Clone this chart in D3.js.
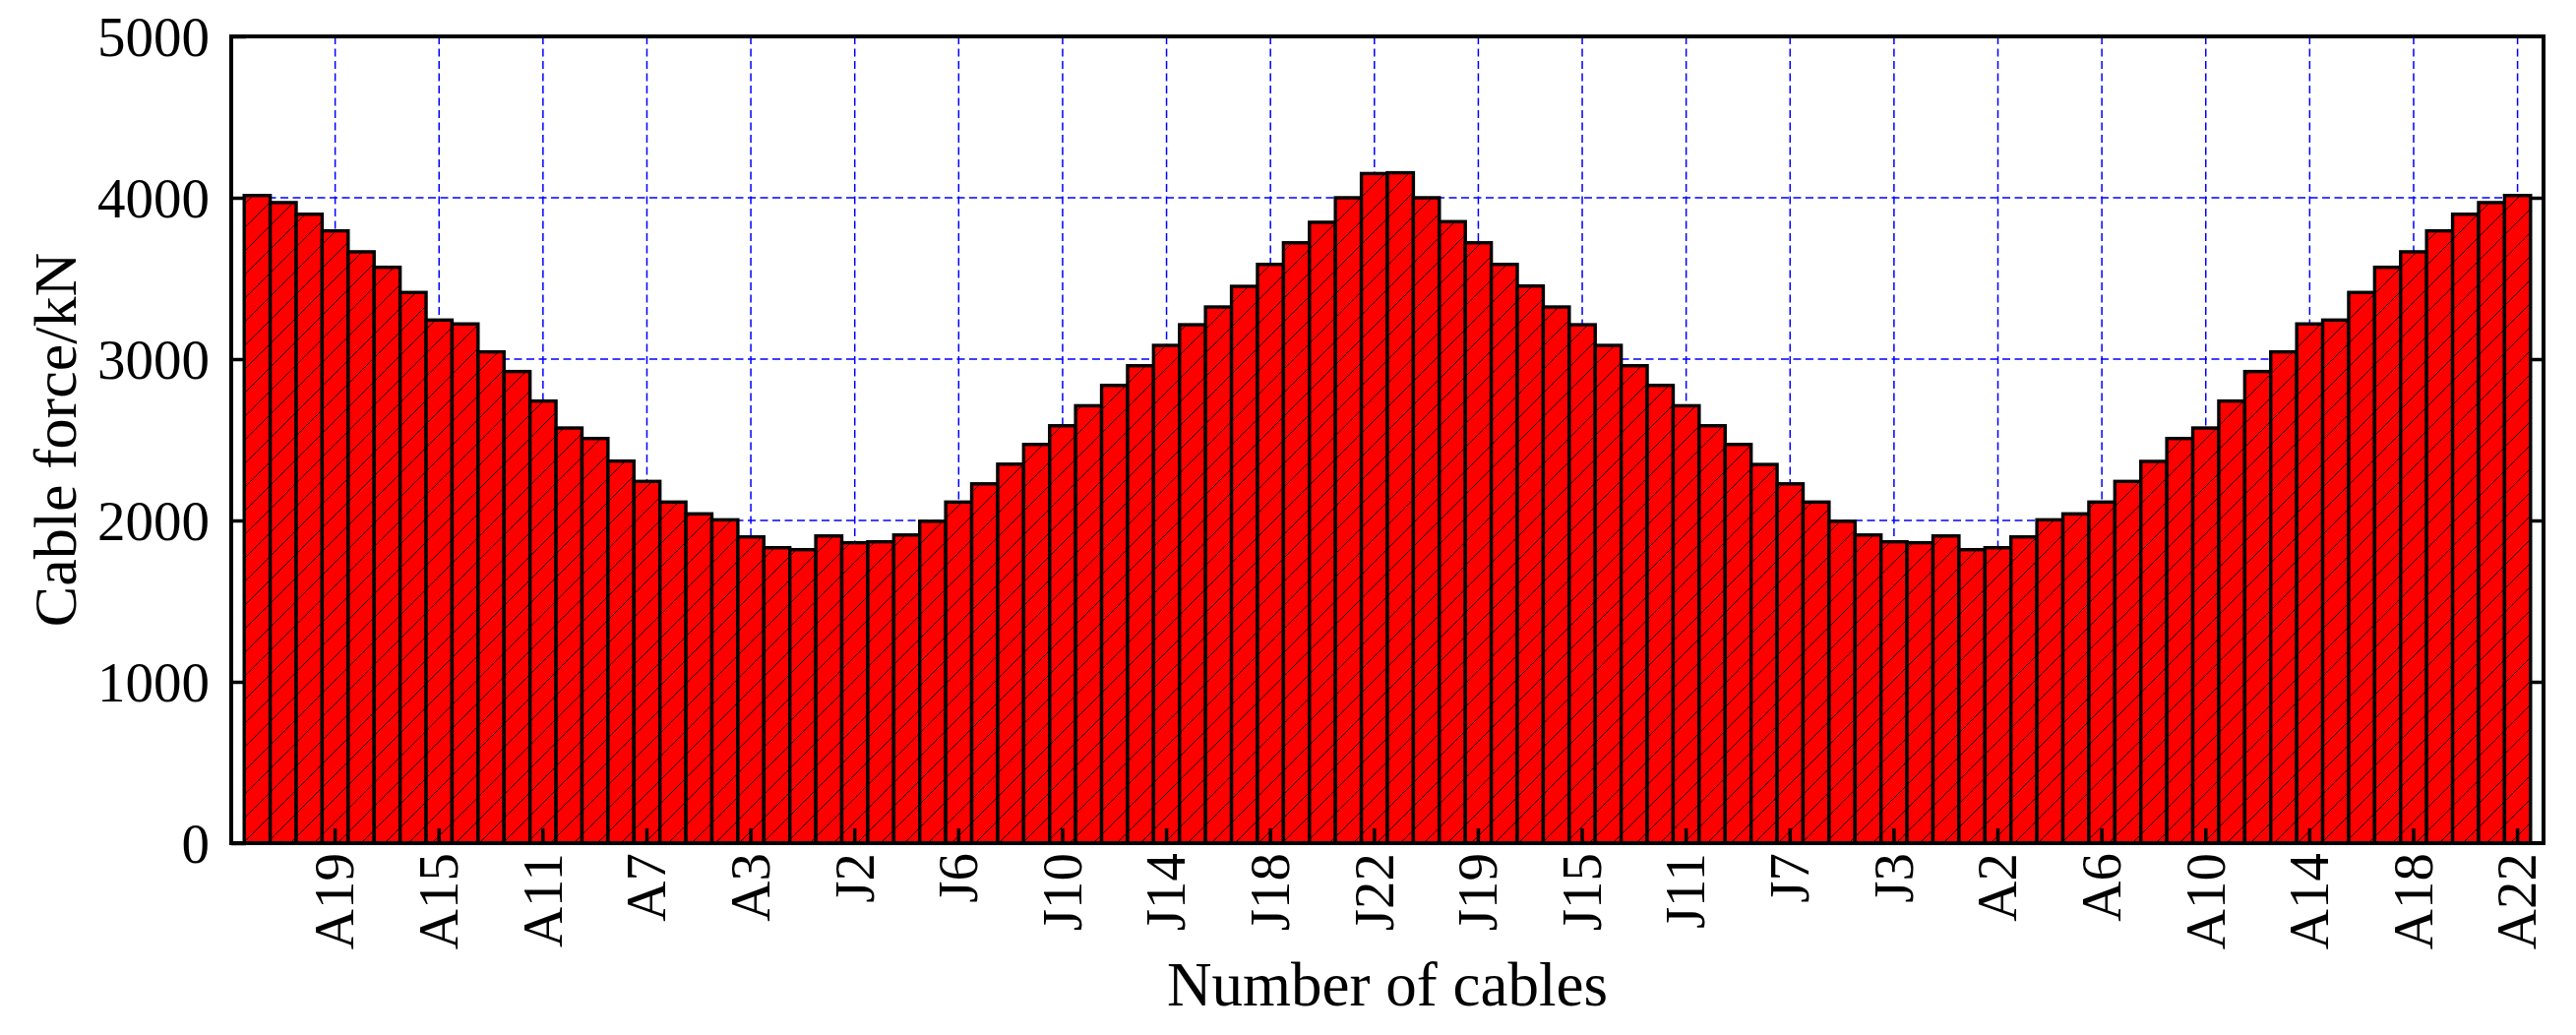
<!DOCTYPE html>
<html>
<head>
<meta charset="utf-8">
<script src="https://cdn.jsdelivr.net/npm/d3@7"></script>
<style>
  html, body { margin: 0; padding: 0; background: #fff; }
  svg { display: block; }
  text { font-family: "Liberation Serif", "Times New Roman", serif; fill: #000; }
</style>
</head>
<body>
<svg id="chart" width="2618" height="1052"></svg>
<script>
// ---------- data ----------
const cables = [
  "A22","A21","A20","A19","A18","A17","A16","A15","A14","A13","A12","A11",
  "A10","A9","A8","A7","A6","A5","A4","A3","A2","A1",
  "J1","J2","J3","J4","J5","J6","J7","J8","J9","J10","J11",
  "J12","J13","J14","J15","J16","J17","J18","J19","J20","J21","J22",
  "J22","J21","J20","J19","J18","J17","J16","J15","J14","J13","J12",
  "J11","J10","J9","J8","J7","J6","J5","J4","J3","J2","J1",
  "A1","A2","A3","A4","A5","A6","A7","A8","A9","A10","A11",
  "A12","A13","A14","A15","A16","A17","A18","A19","A20","A21","A22"
];
const forces = [
  4014, 3970, 3898, 3795, 3665, 3569, 3413, 3242, 3218, 3045, 2923, 2740,
  2573, 2508, 2368, 2242, 2114, 2041, 2004, 1898, 1831, 1819,
  1904, 1862, 1868, 1910, 1995, 2114, 2227, 2349, 2471, 2587, 2711,
  2837, 2959, 3085, 3213, 3323, 3451, 3587, 3721, 3848, 4000, 4150,
  4155, 4000, 3852, 3721, 3587, 3453, 3323, 3213, 3085, 2959, 2837,
  2711, 2587, 2471, 2347, 2227, 2114, 1995, 1910, 1868, 1862, 1904,
  1819, 1831, 1898, 2004, 2041, 2114, 2242, 2366, 2508, 2573, 2740,
  2923, 3045, 3218, 3242, 3413, 3569, 3665, 3795, 3898, 3970, 4014
];
const xTickLabels = ["A19","A15","A11","A7","A3","J2","J6","J10","J14","J18","J22",
                     "J19","J15","J11","J7","J3","A2","A6","A10","A14","A18","A22"];
const yTicks = [0, 1000, 2000, 3000, 4000, 5000];
const yGrid = [1000, 2000, 3000, 4000];
const xTitle = "Number of cables";
const yTitle = "Cable force/kN";

// ---------- layout ----------
const L = 235, R = 2585, T = 37, B = 857;
const svg = d3.select("#chart");
svg.append("rect").attr("width", 2618).attr("height", 1052).attr("fill", "#fff");

const idx = d3.range(cables.length);
const x = d3.scaleBand().domain(idx).range([L, R]).paddingInner(0).paddingOuter(0.5);
const y = d3.scaleLinear().domain([0, 5000]).range([B, T]);

// tick positions: every 4th bar starting at index 3 (labels from xTickLabels)
const xTickIdx = d3.range(3, cables.length, 4);
const tickLabelOf = new Map(xTickIdx.map((i, k) => [i, xTickLabels[k]]));

// ---------- hatch pattern ----------
const defs = svg.append("defs");
const pat = defs.append("pattern").attr("id", "hatch")
  .attr("patternUnits", "userSpaceOnUse").attr("width", 24).attr("height", 24);
pat.append("rect").attr("width", 24).attr("height", 24).attr("fill", "#ff0000");
pat.append("path").attr("d", "M0,24 L24,0 M-6,6 L6,-6 M18,30 L30,18")
  .attr("stroke", "#000").attr("stroke-width", 1).attr("stroke-opacity", 0.85);

// ---------- grid ----------
const grid = svg.append("g").attr("stroke", "#0000ff").attr("stroke-width", 1.5)
  .attr("stroke-dasharray", "8,4.5").attr("fill", "none");
grid.selectAll("line.gx").data(xTickIdx).join("line").attr("class", "gx")
  .attr("x1", d => x(d) + x.bandwidth() / 2).attr("x2", d => x(d) + x.bandwidth() / 2)
  .attr("y1", T).attr("y2", B);
grid.selectAll("line.gy").data(yGrid).join("line").attr("class", "gy")
  .attr("x1", L).attr("x2", R).attr("y1", d => y(d)).attr("y2", d => y(d));

// ---------- bars ----------
svg.append("g").selectAll("rect").data(forces).join("rect")
  .attr("x", (d, i) => x(i)).attr("width", x.bandwidth())
  .attr("y", d => y(d)).attr("height", d => y(0) - y(d))
  .attr("fill", "url(#hatch)").attr("stroke", "#000").attr("stroke-width", 3.4);

// ---------- axes ----------
const fontTick = 57;
const gy = svg.append("g").attr("transform", `translate(${L},0)`)
  .call(d3.axisLeft(y).tickValues(yTicks).tickFormat(d3.format("d"))
    .tickSizeInner(-15).tickSizeOuter(0).tickPadding(22));
gy.select(".domain").remove();
gy.selectAll(".tick line").attr("stroke", "#000").attr("stroke-width", 3.5);
gy.selectAll(".tick text").attr("font-size", fontTick).attr("font-family", "Liberation Serif").attr("dy", "0.35em");

const gyr = svg.append("g").attr("transform", `translate(${R},0)`)
  .call(d3.axisRight(y).tickValues(yGrid).tickSizeInner(-13).tickSizeOuter(0).tickFormat(""));
gyr.select(".domain").remove();
gyr.selectAll(".tick line").attr("stroke", "#000").attr("stroke-width", 3.5);

const gx = svg.append("g").attr("transform", `translate(0,${B})`)
  .call(d3.axisBottom(x).tickValues(xTickIdx).tickSizeInner(-15).tickSizeOuter(0)
    .tickFormat(i => tickLabelOf.get(i)));
gx.select(".domain").remove();
gx.selectAll(".tick line").attr("stroke", "#000").attr("stroke-width", 3.5);
gx.selectAll(".tick text")
  .attr("font-size", fontTick).attr("font-family", "Liberation Serif")
  .attr("transform", "rotate(-90)")
  .attr("x", -10).attr("y", 0).attr("dy", "0.33em")
  .style("text-anchor", "end");

// frame
svg.append("rect").attr("x", L).attr("y", T).attr("width", R - L).attr("height", B - T)
  .attr("fill", "none").attr("stroke", "#000").attr("stroke-width", 4);

// ---------- titles ----------
svg.append("text").attr("x", (L + R) / 2).attr("y", 1022)
  .attr("text-anchor", "middle").attr("font-size", 63).text(xTitle);
svg.append("text").attr("transform", `translate(77,${(T + B) / 2}) rotate(-90)`)
  .attr("text-anchor", "middle").attr("font-size", 62).text(yTitle);
</script>
</body>
</html>
